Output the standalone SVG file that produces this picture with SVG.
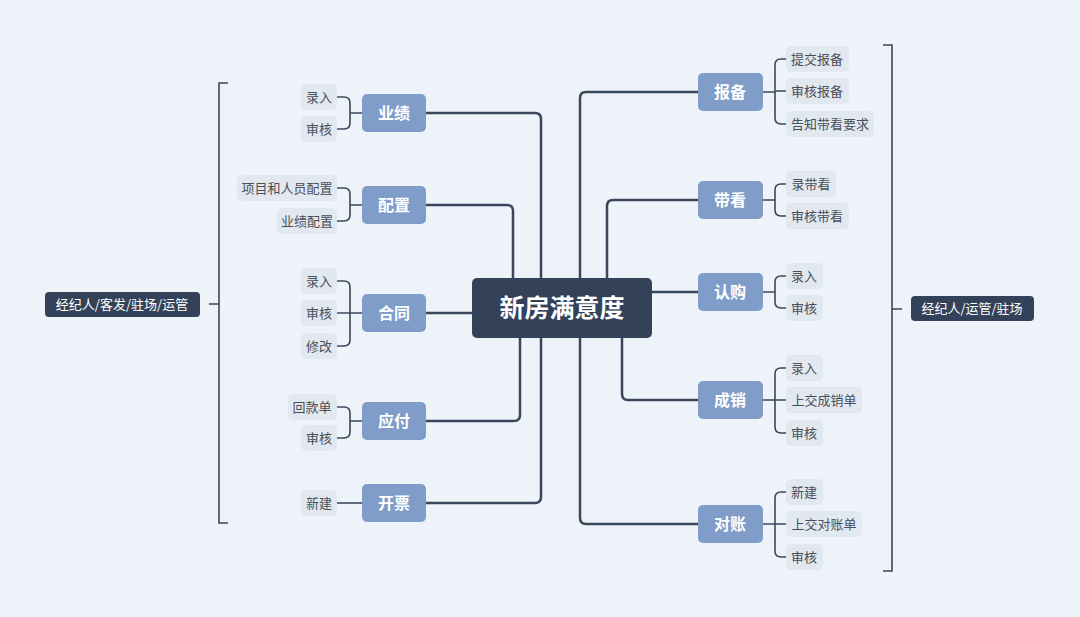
<svg xmlns="http://www.w3.org/2000/svg" width="1080" height="617" viewBox="0 0 1080 617">
<style>
.ln{fill:none;stroke:#3a475c;stroke-width:2.5;stroke-linecap:round}
.br{fill:none;stroke:#3a475c;stroke-width:1.6}
.b rect{fill:#7f9dc8}
.b text{fill:#fff;font:bold 16px "Noto Sans CJK SC",sans-serif;text-anchor:middle}
.l rect{fill:#e2e8ef}
.l text{fill:#4a4f57;font:13px "Noto Sans CJK SC",sans-serif;text-anchor:middle}
.d rect{fill:#344259}
.d text{fill:#fff;font:13px "Noto Sans CJK SC",sans-serif;text-anchor:middle}
</style>
<rect width="1080" height="617" fill="#edf3f9"/>
<g id="connectors">
<path class="ln" d="M426 113H535Q541 113 541 119V278"/>
<path class="ln" d="M426 205H507Q513 205 513 211V278"/>
<path class="ln" d="M426 313H472"/>
<path class="ln" d="M426 421H514Q520 421 520 415V338"/>
<path class="ln" d="M426 503H535Q541 503 541 497V338"/>
<path class="ln" d="M698 92H586Q580 92 580 98V518Q580 524 586 524H698"/>
<path class="ln" d="M698 200H613Q607 200 607 206V278"/>
<path class="ln" d="M652 292H698"/>
<path class="ln" d="M622 338V394Q622 400 628 400H698"/>
<!-- right leaf brackets -->
<path class="br" d="M763 92H775M786 59H781Q775 59 775 65V118Q775 124 781 124H786M775 91H786"/>
<path class="br" d="M763 200H775M786 184H781Q775 184 775 190V210Q775 216 781 216H786"/>
<path class="br" d="M763 292H775M786 276H781Q775 276 775 282V302Q775 308 781 308H786"/>
<path class="br" d="M763 400H775M786 368H781Q775 368 775 374V427Q775 433 781 433H786M775 400H786"/>
<path class="br" d="M763 524H775M786 492H781Q775 492 775 498V551Q775 557 781 557H786M775 524H786"/>
<!-- left leaf brackets -->
<path class="br" d="M362 113H350M337 97H344Q350 97 350 103V123Q350 129 344 129H337"/>
<path class="br" d="M362 205H350M337 188H344Q350 188 350 194V215Q350 221 344 221H337"/>
<path class="br" d="M362 313H337M337 281H344Q350 281 350 287V340Q350 346 344 346H337"/>
<path class="br" d="M362 421H350M337 407H344Q350 407 350 413V432Q350 438 344 438H337"/>
<path class="br" d="M362 503H337"/>
<!-- big brackets -->
<path class="br" d="M228 83H219V523H228M219 304H209"/>
<path class="br" d="M883 45H892V571H883M892 309H902"/>
</g>
<g id="center"><rect x="472" y="278" width="180" height="60" rx="5" fill="#344259"/><text x="562" y="317" fill="#fff" font-family="Noto Sans CJK SC,sans-serif" font-weight="bold" font-size="25" text-anchor="middle">新房满意度</text></g>
<g id="b-yeji" class="b"><rect x="362" y="94" width="64" height="38" rx="5"/><text x="394" y="119">业绩</text></g>
<g id="b-peizhi" class="b"><rect x="362" y="186" width="64" height="38" rx="5"/><text x="394" y="211">配置</text></g>
<g id="b-hetong" class="b"><rect x="362" y="294" width="64" height="38" rx="5"/><text x="394" y="319">合同</text></g>
<g id="b-yingfu" class="b"><rect x="362" y="402" width="64" height="38" rx="5"/><text x="394" y="427">应付</text></g>
<g id="b-kaipiao" class="b"><rect x="362" y="484" width="64" height="38" rx="5"/><text x="394" y="509">开票</text></g>
<g id="b-baobei" class="b"><rect x="698" y="73" width="65" height="38" rx="5"/><text x="730" y="98">报备</text></g>
<g id="b-daikan" class="b"><rect x="698" y="181" width="65" height="38" rx="5"/><text x="730" y="206">带看</text></g>
<g id="b-rengou" class="b"><rect x="698" y="273" width="65" height="38" rx="5"/><text x="730" y="298">认购</text></g>
<g id="b-chengxiao" class="b"><rect x="698" y="381" width="65" height="38" rx="5"/><text x="730" y="406">成销</text></g>
<g id="b-duizhang" class="b"><rect x="698" y="505" width="65" height="38" rx="5"/><text x="730" y="530">对账</text></g>
<g id="l1" class="l"><rect x="301" y="84" width="36" height="26" rx="5"/><text x="319" y="102">录入</text></g>
<g id="l2" class="l"><rect x="301" y="116" width="36" height="26" rx="5"/><text x="319" y="134">审核</text></g>
<g id="l3" class="l"><rect x="237" y="175" width="100" height="26" rx="5"/><text x="287" y="193">项目和人员配置</text></g>
<g id="l4" class="l"><rect x="277" y="208" width="60" height="26" rx="5"/><text x="307" y="226">业绩配置</text></g>
<g id="l5" class="l"><rect x="301" y="268" width="36" height="26" rx="5"/><text x="319" y="286">录入</text></g>
<g id="l6" class="l"><rect x="301" y="300" width="36" height="26" rx="5"/><text x="319" y="318">审核</text></g>
<g id="l7" class="l"><rect x="301" y="333" width="36" height="26" rx="5"/><text x="319" y="351">修改</text></g>
<g id="l8" class="l"><rect x="288" y="394" width="49" height="26" rx="5"/><text x="312" y="412">回款单</text></g>
<g id="l9" class="l"><rect x="301" y="425" width="36" height="26" rx="5"/><text x="319" y="443">审核</text></g>
<g id="l10" class="l"><rect x="301" y="490" width="36" height="26" rx="5"/><text x="319" y="508">新建</text></g>
<g id="r1" class="l"><rect x="786" y="46" width="63" height="26" rx="5"/><text x="817" y="64">提交报备</text></g>
<g id="r2" class="l"><rect x="786" y="78" width="63" height="26" rx="5"/><text x="817" y="96">审核报备</text></g>
<g id="r3" class="l"><rect x="786" y="111" width="88" height="26" rx="5"/><text x="830" y="129">告知带看要求</text></g>
<g id="r4" class="l"><rect x="786" y="171" width="50" height="26" rx="5"/><text x="811" y="189">录带看</text></g>
<g id="r5" class="l"><rect x="786" y="203" width="63" height="26" rx="5"/><text x="817" y="221">审核带看</text></g>
<g id="r6" class="l"><rect x="786" y="263" width="37" height="26" rx="5"/><text x="804" y="281">录入</text></g>
<g id="r7" class="l"><rect x="786" y="295" width="37" height="26" rx="5"/><text x="804" y="313">审核</text></g>
<g id="r8" class="l"><rect x="786" y="355" width="37" height="26" rx="5"/><text x="804" y="373">录入</text></g>
<g id="r9" class="l"><rect x="786" y="387" width="76" height="26" rx="5"/><text x="824" y="405">上交成销单</text></g>
<g id="r10" class="l"><rect x="786" y="420" width="37" height="26" rx="5"/><text x="804" y="438">审核</text></g>
<g id="r11" class="l"><rect x="786" y="479" width="37" height="26" rx="5"/><text x="804" y="497">新建</text></g>
<g id="r12" class="l"><rect x="786" y="511" width="76" height="26" rx="5"/><text x="824" y="529">上交对账单</text></g>
<g id="r13" class="l"><rect x="786" y="544" width="37" height="26" rx="5"/><text x="804" y="562">审核</text></g>
<g id="role-left" class="d"><rect x="45" y="292" width="155" height="25" rx="4"/><text x="122" y="309">经纪人/客发/驻场/运管</text></g>
<g id="role-right" class="d"><rect x="911" y="296" width="123" height="25" rx="4"/><text x="972" y="313">经纪人/运管/驻场</text></g>
</svg>
